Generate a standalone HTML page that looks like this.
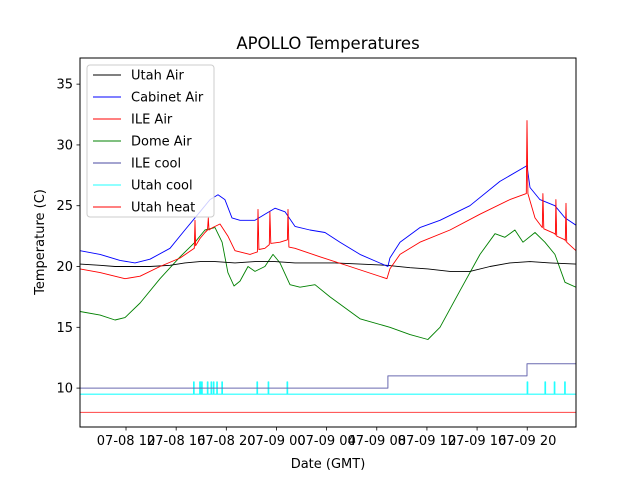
<!DOCTYPE html>
<html><head><meta charset="utf-8"><style>
body{margin:0;background:#fff;}
svg{display:block;font-family:"DejaVu Sans","Liberation Sans",sans-serif;}
</style></head><body>
<svg id="chart" width="640" height="480">
<rect width="640" height="480" fill="#fff"/>
<text x="328" y="49" text-anchor="middle" font-size="16.5">APOLLO Temperatures</text>
<g id="plot"></g>
<g id="axes"></g>
</svg>
<script>
// hours since 07-08 00:00 GMT
const xDomain=[8.33,47.89];
const yDomain=[6.8,37.15];
const xTickHours=[12,16,20,24,28,32,36,40,44];
const xTickLabels=["07-08 12","07-08 16","07-08 20","07-09 00","07-09 04","07-09 08","07-09 12","07-09 16","07-09 20"];
const yTicks=[10,15,20,25,30,35];

const utahAirT=[8.33,9.93,11.12,12.72,13.91,15.51,16.7,17.9,19.1,20.69,22.29,23.88,25.48,27.07,28.67,30.66,32.81,34.65,36.08,37.84,39.43,41.03,42.62,44.22,45.82,47.89];
const utahAirV=[20.2,20.1,20.0,20.0,20.0,20.1,20.3,20.4,20.4,20.3,20.4,20.4,20.3,20.3,20.3,20.2,20.1,19.9,19.8,19.6,19.6,20.0,20.3,20.4,20.3,20.2];

const cabinetT=[8.33,9.93,11.52,12.72,13.91,15.51,16.7,17.9,18.7,19.34,19.89,20.45,21.09,22.29,23.08,23.88,24.68,25.48,26.67,27.87,29.07,30.66,32.89,33.05,33.85,35.44,37.04,39.43,41.82,43.98,44.22,45.01,46.21,47.01,47.89];
const cabinetV=[21.3,21.0,20.5,20.3,20.6,21.5,23.0,24.5,25.5,25.9,25.5,24.0,23.8,23.8,24.3,24.8,24.5,23.3,23.0,22.8,22.0,21.0,20.0,20.7,22.0,23.2,23.8,25.0,27.0,28.3,26.5,25.5,25.0,24.0,23.4];

const ileAirT=[8.33,9.93,11.92,13.12,14.71,16.31,17.45,17.5,17.55,17.9,18.3,18.5,18.56,18.62,18.9,19.5,20.13,20.69,21.89,22.48,22.53,22.6,23.08,23.43,23.48,23.55,24.28,24.87,24.92,24.99,25.48,27.47,29.86,32.81,33.05,33.85,35.44,37.84,40.23,42.62,43.93,43.98,44.05,44.62,45.2,45.25,45.32,46.21,46.25,46.29,46.35,47.01,47.04,47.09,47.15,47.89];
const ileAirV=[19.8,19.5,19.0,19.2,20.0,20.7,21.5,23.8,21.7,22.3,22.8,23.0,24.0,23.0,23.2,23.5,22.5,21.3,21.0,21.2,24.7,21.4,21.5,21.8,24.5,21.9,22.0,22.2,24.7,21.6,21.5,20.8,20.0,19.0,19.8,21.0,22.0,23.0,24.3,25.5,26.0,32.0,26.0,24.0,23.2,26.0,23.1,22.7,22.6,25.5,22.5,22.2,22.1,25.2,22.0,21.3];

const domeT=[8.33,9.93,11.12,11.92,13.12,14.71,16.31,17.5,18.3,19.1,19.66,20.13,20.61,21.09,21.73,22.29,23.08,23.72,24.28,25.08,25.88,27.07,28.27,30.66,33.05,34.65,36.08,37.04,38.63,40.23,41.43,42.22,43.02,43.66,44.62,45.41,46.21,47.01,47.89];
const domeV=[16.3,16.0,15.6,15.8,17.0,19.0,20.8,22.0,23.0,23.2,22.0,19.5,18.4,18.8,20.0,19.6,20.0,21.0,20.3,18.5,18.3,18.5,17.5,15.7,15.0,14.4,14.0,15.0,18.0,21.0,22.7,22.4,23.0,22.0,22.8,22.0,21.0,18.7,18.3];

const ileCoolT=[8.33,32.89,32.89,43.98,43.98,47.89];
const ileCoolV=[10,10,11,11,12,12];

const utahCoolBase=9.5;
const utahCoolPeak=10.5;
const utahCoolSpikes=[17.41,17.9,17.96,18.06,18.51,18.81,18.99,19.26,19.67,22.47,23.36,24.87,44.02,45.44,46.18,47.01];

const utahHeatT=[8.33,47.89];
const utahHeatV=[8,8];

const L=80,R=576,T=58,B=427;
function xs(h){return L+(h-xDomain[0])/(xDomain[1]-xDomain[0])*(R-L);}
function ys(v){return B-(v-yDomain[0])/(yDomain[1]-yDomain[0])*(B-T);}
const NS="http://www.w3.org/2000/svg";
const plot=document.getElementById('plot');
const axes=document.getElementById('axes');
function mk(tag,attrs,parent){const e=document.createElementNS(NS,tag);for(const k in attrs)e.setAttribute(k,attrs[k]);parent.appendChild(e);return e;}
function line(T_,V_,color,name,w){
  const pts=T_.map((t,i)=>xs(t).toFixed(1)+","+ys(V_[i]).toFixed(1)).join(" ");
  const p=mk('polyline',{points:pts,fill:'none',stroke:color,'stroke-width':w||0.8,'stroke-linejoin':'round'},plot);
  
  
}
// clip
const cp=mk('clipPath',{id:'pc'},plot);mk('rect',{x:L,y:T,width:R-L,height:B-T},cp);
plot.setAttribute('clip-path','url(#pc)');

line(utahHeatT,utahHeatV,'#ff4444','utah-heat-line',1);
// utah cool with spikes
(function(){
  let pts=[[xDomain[0],utahCoolBase]];
  utahCoolSpikes.forEach(s=>{pts.push([s-0.02,utahCoolBase],[s-0.02,utahCoolPeak],[s+0.02,utahCoolPeak],[s+0.02,utahCoolBase]);});
  pts.push([xDomain[1],utahCoolBase]);
  line(pts.map(p=>p[0]),pts.map(p=>p[1]),'#22ffff','utah-cool-line',1.2);
})();
line(ileCoolT,ileCoolV,'#6a6ab0','ile-cool-line',1);
line(domeT,domeV,'#008000','dome-air-line',0.9);
line(utahAirT,utahAirV,'#000','utah-air-line',0.9);
line(cabinetT,cabinetV,'#0000ff','cabinet-air-line',0.9);
line(ileAirT,ileAirV,'#ff0000','ile-air-line',0.9);

// frame
const fr=mk('rect',{x:L,y:T,width:R-L,height:B-T,fill:'none',stroke:'#000','stroke-width':1},axes);


yTicks.forEach(v=>{
  const y=ys(v);
  mk('line',{x1:L-3.5,x2:L,y1:y,y2:y,stroke:'#000','stroke-width':0.8},axes);
  const t=mk('text',{x:L-7,y:y+4.5,'text-anchor':'end','font-size':13},axes);
  t.textContent=v;
  
  
});
xTickHours.forEach((h,i)=>{
  const x=xs(h);
  mk('line',{x1:x,x2:x,y1:B,y2:B+3.5,stroke:'#000','stroke-width':0.8},axes);
  const t=mk('text',{x:x,y:B+18,'text-anchor':'middle','font-size':13},axes);
  t.textContent=xTickLabels[i];
  
  
});
const xl=mk('text',{x:328,y:468,'text-anchor':'middle','font-size':13},axes);xl.textContent='Date (GMT)';


const yl=mk('text',{x:0,y:0,'text-anchor':'middle','font-size':13,transform:'translate(44,242) rotate(-90)'},axes);yl.textContent='Temperature (C)';



// legend
const legNames=["Utah Air","Cabinet Air","ILE Air","Dome Air","ILE cool","Utah cool","Utah heat"];
const legColors=["#000","#0000ff","#ff0000","#008000","#4a4aa0","#22ffff","#ff0000"];
const lg=mk('g',{},axes);


mk('rect',{x:87,y:65,width:127,height:152,rx:3,fill:'#fff','fill-opacity':0.8,stroke:'#ccc','stroke-width':1},lg);
legNames.forEach((n,i)=>{
  const y=75+i*22;
  const g=mk('g',{},lg);
  
  
  mk('line',{x1:93,x2:121,y1:y,y2:y,stroke:legColors[i],'stroke-width':0.9},g);
  const t=mk('text',{x:131,y:y+4.5,'font-size':13},g);t.textContent=n;
});
</script>
</body></html>
